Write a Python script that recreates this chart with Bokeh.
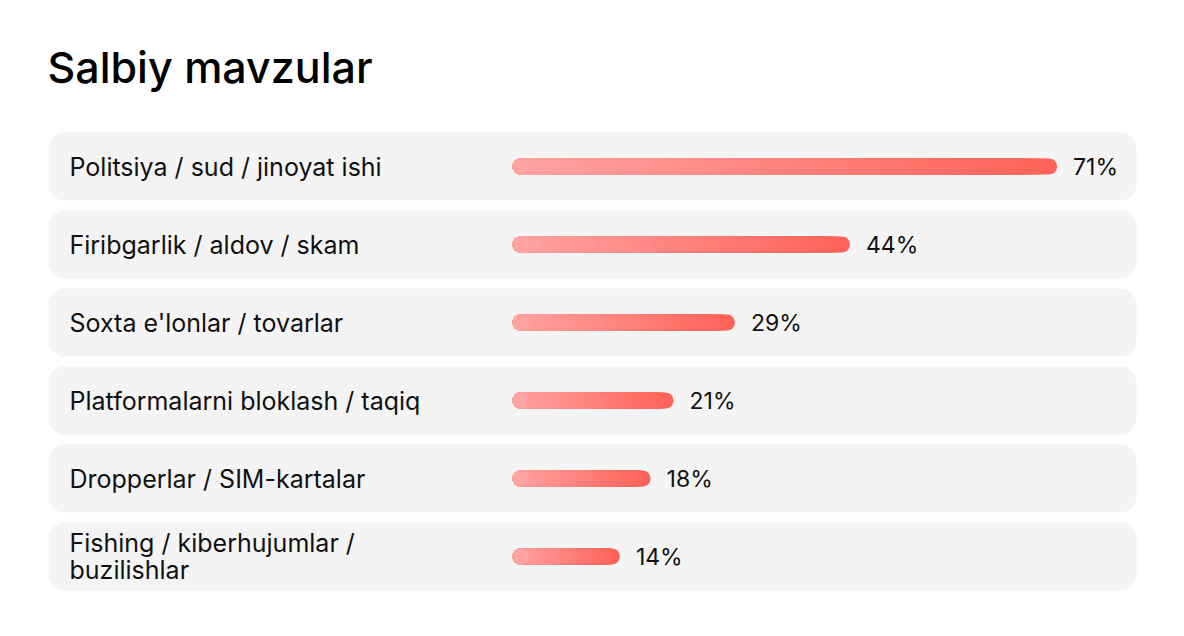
from bokeh.plotting import figure
from bokeh.models import Range1d, ColumnDataSource
from bokeh.core.properties import value
from bokeh.embed import file_html
from bokeh.resources import INLINE

# ---- data ----
title_text = "Salbiy mavzular"
categories = [
    "Politsiya / sud / jinoyat ishi",
    "Firibgarlik / aldov / skam",
    "Soxta e'lonlar / tovarlar",
    "Platformalarni bloklash / taqiq",
    "Dropperlar / SIM-kartalar",
    "Fishing / kiberhujumlar /\nbuzilishlar",
]
values = [71, 44, 29, 21, 18, 14]
value_labels = [f"{v}%" for v in values]

# ---- layout / style ----
W, H = 1168, 620
PX_PER_PCT = 7.67          # horizontal scale of the bars
BAR_ORIGIN = 512           # pixel where 0% sits
ROW_TOP_CENTER = 166
ROW_PITCH = 78
ROW_H = 68
BAR_H = 16
START_COL = (255, 163, 163)
END_COL = (255, 98, 88)
FONT = value("Inter")
N_STEPS = 60
MIN_SEG = BAR_H / PX_PER_PCT   # keep each rounded piece at least one bar-height long

row_y = [ROW_TOP_CENTER + ROW_PITCH * i for i in range(len(categories))]

p = figure(
    width=W, height=H,
    x_range=Range1d(-BAR_ORIGIN / PX_PER_PCT, (W - BAR_ORIGIN) / PX_PER_PCT),
    y_range=Range1d(H, 0),
    output_backend="svg", toolbar_location=None,
    x_axis_location=None, y_axis_location=None,
    min_border=0,
)
p.extra_x_ranges = {"px": Range1d(0, W)}
p.grid.visible = False
p.outline_line_color = None
p.background_fill_color = "white"
p.border_fill_color = "white"

# title
p.text(x=[47], y=[66], text=[title_text], x_range_name="px",
       text_font=value("Inter Medium"), text_font_size="43px",
       text_color="#000000", text_baseline="middle")

# row backgrounds
p.hbar(y=row_y, height=ROW_H, left=48, right=1136, x_range_name="px",
       fill_color="#f4f4f4", line_color=None, border_radius=16)

# category labels
p.text(x=[69] * len(categories), y=row_y, text=categories, x_range_name="px",
       text_font=FONT, text_font_size="25px", text_color="#111111",
       text_baseline="middle", text_line_height=0.9)

# gradient bars: stacked rounded bars, longest (darkest) first
bx, by, bc = [], [], []
for v, yy in zip(values, row_y):
    for j in range(N_STEPS, 0, -1):
        t = (j - 1) / (N_STEPS - 1)
        r = round(START_COL[0] + (END_COL[0] - START_COL[0]) * t)
        g = round(START_COL[1] + (END_COL[1] - START_COL[1]) * t)
        b = round(START_COL[2] + (END_COL[2] - START_COL[2]) * t)
        bx.append(max(v * j / N_STEPS, MIN_SEG))
        by.append(yy)
        bc.append(f"#{r:02x}{g:02x}{b:02x}")
src = ColumnDataSource(dict(y=by, right=bx, color=bc))
p.hbar(y="y", height=BAR_H, left=0, right="right", source=src,
       fill_color="color", line_color=None, border_radius=8)

# value labels
p.text(x=values, y=row_y, text=value_labels, x_offset=16,
       text_font=FONT, text_font_size="23px", text_color="#111111",
       text_baseline="middle")

open("out.html", "w").write(file_html(p, INLINE))
